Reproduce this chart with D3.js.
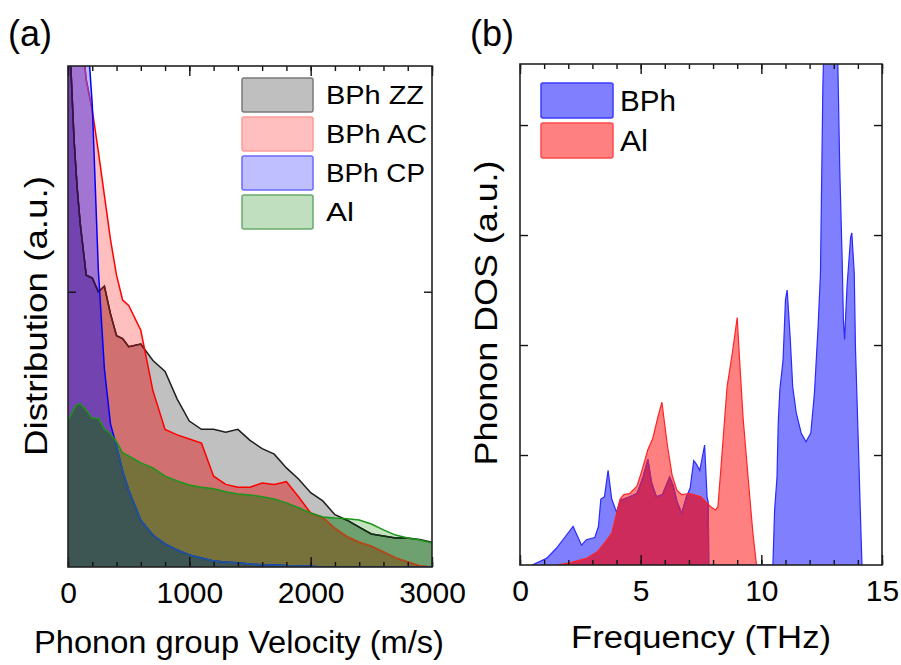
<!DOCTYPE html>
<html>
<head>
<meta charset="utf-8">
<script src="https://cdn.jsdelivr.net/npm/d3@7"></script>
<style>
body { margin: 0; background: #fff; }
text { font-family: "Liberation Sans", Arial, sans-serif; fill: #000; }
</style>
</head>
<body>
<svg id="fig" width="901" height="665"></svg>
<script>
// (a) group velocity distribution (a.u.)
let velocity = [0,25,50,75,100,150,200,250,300,350,400,450,500,600,700,800,900,1000,1100,1200,1300,1400,1500,1600,1700,1800,1900,2000,2100,2200,2300,2400,2500,2600,2700,2800,2900,3000];
let distZZ = [2.0,1.80,1.55,1.38,1.25,1.06,1.05,1.00,1.02,0.92,0.84,0.83,0.80,0.81,0.75,0.71,0.61,0.53,0.50,0.50,0.49,0.50,0.46,0.43,0.41,0.36,0.32,0.27,0.24,0.19,0.17,0.145,0.12,0.113,0.105,0.105,0.10,0.09];
let distAC = [2.0,2.0,2.0,2.0,2.0,1.77,1.66,1.51,1.35,1.19,1.06,0.97,0.95,0.86,0.64,0.50,0.48,0.465,0.45,0.33,0.30,0.29,0.29,0.305,0.30,0.31,0.255,0.196,0.18,0.14,0.11,0.09,0.076,0.055,0.033,0.018,0.004,0];
let distCP = [2.0,2.0,2.0,2.0,2.0,2.0,1.68,1.08,0.72,0.52,0.44,0.35,0.28,0.17,0.116,0.084,0.062,0.044,0.033,0.022,0.018,0.015,0.011,0.008,0.007,0.005,0.004,0.003,0,0,0,0,0,0,0,0,0,0];
let distAl = [0.535,0.553,0.578,0.59,0.593,0.57,0.54,0.54,0.50,0.484,0.455,0.415,0.404,0.378,0.36,0.33,0.313,0.298,0.29,0.284,0.273,0.265,0.262,0.255,0.247,0.233,0.215,0.196,0.182,0.178,0.175,0.171,0.156,0.135,0.116,0.105,0.098,0.087];
let namesA = ["BPh ZZ", "BPh AC", "BPh CP", "Al"];

// (b) phonon DOS (a.u.)
let freqBPh = [0.5,1.1,1.5,1.85,2.2,2.55,2.75,3.1,3.25,3.35,3.5,3.65,3.8,4.0,4.15,4.3,4.55,4.85,5.1,5.3,5.45,5.65,5.9,6.2,6.35,6.5,6.7,6.9,7.05,7.2,7.3,7.45,7.65,7.75,7.8,7.82,10.48,10.55,10.65,10.7,10.77,10.9,11.0,11.07,11.2,11.3,11.45,11.65,11.85,12.05,12.2,12.35,12.45,12.5,12.55,12.6,13.15,13.25,13.35,13.4,13.45,13.55,13.7,13.75,13.85,13.9,14.0,14.1,14.17];
let dosBPh = [0,0.06,0.15,0.25,0.35,0.18,0.23,0.25,0.35,0.60,0.62,0.86,0.60,0.48,0.59,0.60,0.62,0.65,0.80,0.96,0.75,0.62,0.64,0.80,0.72,0.58,0.47,0.62,0.70,0.95,0.92,0.86,1.09,0.62,0.57,0,0,0.5,0.8,1.29,1.6,1.86,2.41,2.5,2.05,1.62,1.38,1.2,1.12,1.2,1.56,2.16,2.65,3.5,4.35,4.8,4.8,3.6,2.77,2.23,2.05,2.53,2.98,3.02,2.65,1.98,1.25,0.5,0];
let freqAl = [1.5,2.05,2.75,3.2,3.5,3.8,4.0,4.15,4.3,4.55,4.85,5.0,5.3,5.5,5.72,5.88,6.1,6.3,6.5,6.7,7.05,7.5,7.9,8.1,8.2,8.35,8.58,8.8,9.0,9.1,9.25,9.45,9.65,9.8];
let dosAl = [0,0.02,0.06,0.12,0.2,0.29,0.47,0.60,0.64,0.65,0.72,0.82,1.05,1.15,1.35,1.48,1.1,0.82,0.68,0.64,0.65,0.62,0.53,0.50,0.53,0.95,1.62,1.93,2.25,1.86,1.32,0.80,0.29,0];
let namesB = ["BPh", "Al"];

let xTicksA = [0, 1000, 2000, 3000];
let xTicksB = [0, 5, 10, 15];

const svg = d3.select("#fig");
const defs = svg.append("defs");

function bits(m) { let c = 0; while (m) { c += m & 1; m >>= 1; } return c; }

// paint every overlap region with its own flat colour (areas share baseline)
function paintRegions(g, areaPaths, colors, prefix, box) {
	areaPaths.forEach((d, i) => defs.append("clipPath").attr("id", prefix + i).append("path").attr("d", d));
	let n = areaPaths.length;
	let masks = d3.range(1, 1 << n).sort((a, b) => bits(a) - bits(b) || a - b);
	masks.forEach(m => {
		let inner = g;
		for (let i = 0; i < n; i++) if (m & (1 << i)) inner = inner.append("g").attr("clip-path", `url(#${prefix}${i})`);
		inner.append("rect")
			.attr("x", box.x0).attr("y", box.y0)
			.attr("width", box.x1 - box.x0).attr("height", box.y1 - box.y0)
			.attr("fill", colors[m]);
	});
}

function frame(box, x, y, major, minor, yTicks) {
	let g = svg.append("g");
	g.append("g").attr("transform", `translate(0,${box.y1})`)
		.call(d3.axisBottom(x).tickValues(minor).tickSize(-5).tickFormat(""));
	g.append("g").attr("transform", `translate(0,${box.y0})`)
		.call(d3.axisTop(x).tickValues(minor).tickSize(-5).tickFormat(""));
	g.append("g").attr("transform", `translate(0,${box.y0})`)
		.call(d3.axisTop(x).tickValues(major).tickSize(-10).tickFormat(""));
	g.append("g").attr("class", "xlab").attr("transform", `translate(0,${box.y1})`)
		.call(d3.axisBottom(x).tickValues(major).tickSize(-10).tickPadding(15).tickFormat(d3.format("d")));
	g.append("g").attr("transform", `translate(${box.x0},0)`)
		.call(d3.axisLeft(y).tickValues(yTicks).tickSize(-8).tickFormat(""));
	g.append("g").attr("transform", `translate(${box.x1},0)`)
		.call(d3.axisRight(y).tickValues(yTicks).tickSize(-8).tickFormat(""));
	g.selectAll(".domain").remove();
	g.selectAll(".tick line").attr("stroke", "#111").attr("stroke-width", 1.4);
	g.selectAll(".xlab text").attr("font-size", 30).attr("font-family", '"Liberation Sans", Arial, sans-serif').attr("fill", "#000");
	g.append("rect").attr("x", box.x0).attr("y", box.y0)
		.attr("width", box.x1 - box.x0).attr("height", box.y1 - box.y0)
		.attr("fill", "none").attr("stroke", "#222").attr("stroke-width", 1.6);
}

// ---------- panel (a) ----------
let boxA = {x0: 68, x1: 432, y0: 66, y1: 567};
let xA = d3.scaleLinear().domain([0, 3000]).range([boxA.x0, boxA.x1]);
let yA = d3.scaleLinear().domain([0, 1.82]).range([boxA.y1, boxA.y0]);
let seriesA = [distZZ, distAC, distCP, distAl];

defs.append("clipPath").attr("id", "plotA").append("rect")
	.attr("x", boxA.x0).attr("y", boxA.y0).attr("width", boxA.x1 - boxA.x0).attr("height", boxA.y1 - boxA.y0);

let areaA = d3.area().x((d, i) => xA(velocity[i])).y0(yA(0)).y1(d => yA(d));
let lineA = d3.line().x((d, i) => xA(velocity[i])).y(d => yA(d));

// bitmask: 1 ZZ, 2 AC, 4 CP, 8 Al
let regionColorsA = {1:"#c0c0c0", 2:"#ffbfbf", 3:"#d07070", 4:"#bfbfff", 5:"#8a80c8", 6:"#a375d3", 7:"#7343b0",
	8:"#c4e3be", 9:"#6fa06f", 10:"#c09a70", 11:"#77713c", 12:"#80a0c0", 13:"#40607a", 14:"#705080", 15:"#3e5653"};

let gA = svg.append("g").attr("clip-path", "url(#plotA)");
paintRegions(gA, seriesA.map(s => areaA(s)), regionColorsA, "aA", boxA);

let lineColorsA = ["#1e1e1e", "#ff0000", "#0000ff", "#1a961a"];
let tintA = {"0-1": "#6e1a1a", "0-2": "#2c1458", "0-3": "#14301a", "1-2": "#8c3cb4", "1-3": "#a4541c", "2-3": "#205c94"};
seriesA.forEach((s, i) => {
	gA.append("path").attr("d", lineA(s)).attr("fill", "none")
		.attr("stroke", lineColorsA[i]).attr("stroke-width", 1.5);
	for (let j = i + 1; j < seriesA.length; j++) {
		gA.append("g").attr("clip-path", `url(#aA${j})`)
			.append("path").attr("d", lineA(s)).attr("fill", "none")
			.attr("stroke", tintA[i + "-" + j]).attr("stroke-width", 1.5);
	}
});

frame(boxA, xA, yA, xTicksA, d3.range(0, 3001, 200), [1]);

// legend (a)
let legFillA = ["#bfbfbf", "#ffbfbf", "#bfbfff", "#bfdfbf"];
let legEdgeA = ["#7a7a7a", "#ff9a9a", "#6a6aff", "#6aaa6a"];
let legWidthA = [98, 101, 99, 28];
let legA = svg.append("g");
namesA.forEach((nm, i) => {
	let y0 = 78 + i * 39;
	legA.append("rect").attr("x", 242).attr("y", y0).attr("width", 71).attr("height", 34).attr("rx", 2)
		.attr("fill", legFillA[i]).attr("stroke", legEdgeA[i]).attr("stroke-width", 1.5);
	legA.append("text").attr("x", 326).attr("y", y0 + 26).attr("font-size", 26)
		.attr("textLength", legWidthA[i]).attr("lengthAdjust", "spacingAndGlyphs").text(nm);
});

svg.append("text").attr("x", 34).attr("y", 653).attr("font-size", 31)
	.attr("textLength", 410).attr("lengthAdjust", "spacingAndGlyphs").text("Phonon group Velocity (m/s)");
svg.append("text").attr("transform", "translate(47,316) rotate(-90)").attr("text-anchor", "middle")
	.attr("font-size", 31).attr("textLength", 280).attr("lengthAdjust", "spacingAndGlyphs").text("Distribution (a.u.)");
svg.append("text").attr("x", 8).attr("y", 46).attr("font-size", 36).text("(a)");

// ---------- panel (b) ----------
let boxB = {x0: 520, x1: 882, y0: 64, y1: 565};
let xB = d3.scaleLinear().domain([0, 15]).range([boxB.x0, boxB.x1]);
let yB = d3.scaleLinear().domain([0, 4.555]).range([boxB.y1, boxB.y0]);

defs.append("clipPath").attr("id", "plotB").append("rect")
	.attr("x", boxB.x0).attr("y", boxB.y0).attr("width", boxB.x1 - boxB.x0).attr("height", boxB.y1 - boxB.y0);

let areaB = (fx, vals) => d3.area().x((d, i) => xB(fx[i])).y0(yB(0)).y1(d => yB(d))(vals);
let lineB = (fx, vals) => d3.line().x((d, i) => xB(fx[i])).y(d => yB(d))(vals);

let gB = svg.append("g").attr("clip-path", "url(#plotB)");
paintRegions(gB, [areaB(freqBPh, dosBPh), areaB(freqAl, dosAl)], {1: "#8080ff", 2: "#ff8080", 3: "#cd2b5b"}, "aB", boxB);

gB.append("path").attr("d", lineB(freqBPh, dosBPh)).attr("fill", "none").attr("stroke", "#2a2aff").attr("stroke-width", 1.2);
gB.append("g").attr("clip-path", "url(#aB1)")
	.append("path").attr("d", lineB(freqBPh, dosBPh)).attr("fill", "none").attr("stroke", "#c8245a").attr("stroke-width", 1.2);
gB.append("path").attr("d", lineB(freqAl, dosAl)).attr("fill", "none").attr("stroke", "#ff2424").attr("stroke-width", 1.2);

frame(boxB, xB, yB, xTicksB, d3.range(0, 16, 1), [1, 2, 3, 4]);

// legend (b)
let legFillB = ["#8080ff", "#ff8080"];
let legEdgeB = ["#3a3aff", "#ff4a4a"];
let legWidthB = [56, 28];
namesB.forEach((nm, i) => {
	let y0 = 83 + i * 40;
	svg.append("rect").attr("x", 541).attr("y", y0).attr("width", 72).attr("height", 35).attr("rx", 2)
		.attr("fill", legFillB[i]).attr("stroke", legEdgeB[i]).attr("stroke-width", 1.5);
	svg.append("text").attr("x", 620).attr("y", y0 + 28).attr("font-size", 30)
		.attr("textLength", legWidthB[i]).attr("lengthAdjust", "spacingAndGlyphs").text(nm);
});

svg.append("text").attr("x", 571).attr("y", 648).attr("font-size", 31)
	.attr("textLength", 260).attr("lengthAdjust", "spacingAndGlyphs").text("Frequency (THz)");
svg.append("text").attr("transform", "translate(497,313) rotate(-90)").attr("text-anchor", "middle")
	.attr("font-size", 31).attr("textLength", 305).attr("lengthAdjust", "spacingAndGlyphs").text("Phonon DOS (a.u.)");
svg.append("text").attr("x", 470).attr("y", 46).attr("font-size", 36).text("(b)");
</script>
</body>
</html>
